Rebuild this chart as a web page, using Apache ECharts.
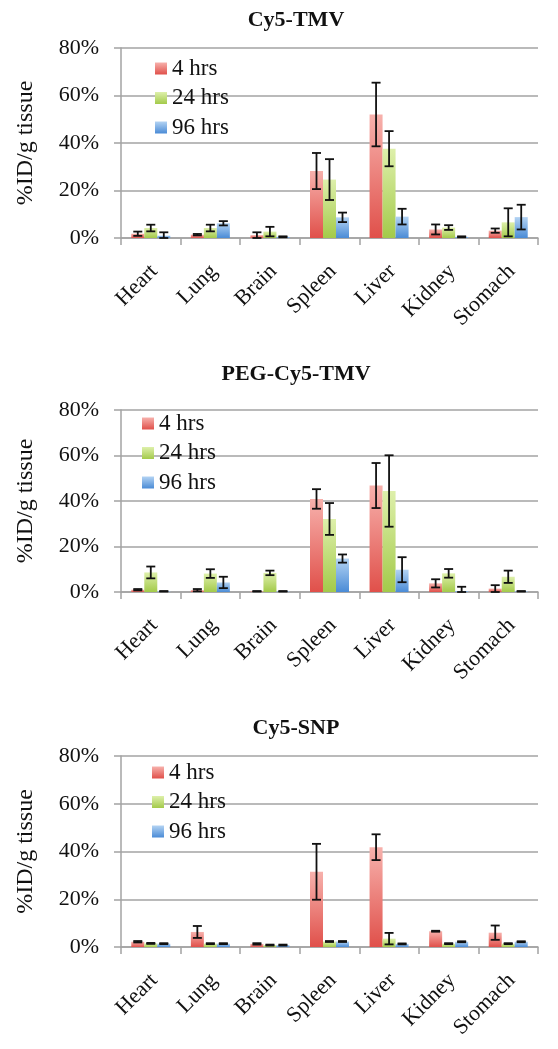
<!DOCTYPE html>
<html><head><meta charset="utf-8">
<script src="https://cdn.jsdelivr.net/npm/echarts@6/dist/echarts.min.js"></script>
<style>html,body{margin:0;padding:0;background:#fff}#c{width:558px;height:1049px}</style>
</head><body><div id="c"></div>
<script>
const categories = ['Heart','Lung','Brain','Spleen','Liver','Kidney','Stomach'];
const seriesNames = ['4 hrs','24 hrs','96 hrs'];
const panelTitles = ['Cy5-TMV','PEG-Cy5-TMV','Cy5-SNP'];
const yTicks = [0, 20, 40, 60, 80];

// Panel 1: Cy5-TMV (%ID/g)
const tmv4     = [1.8, 1.4, 1.2, 28.2, 52.0, 3.6, 3.1];
const tmv4Err  = [0.9, 0.3, 1.2, 7.6, 13.4, 2.1, 0.9];
const tmv24    = [4.2, 4.2, 2.7, 24.6, 37.6, 4.4, 6.6];
const tmv24Err = [1.4, 1.4, 2.0, 8.6, 7.4, 1.0, 5.9];
const tmv96    = [1.0, 6.2, 0.5, 8.7, 9.0, 0.5, 8.8];
const tmv96Err = [1.4, 0.9, 0.2, 2.0, 3.3, 0.2, 5.2];

// Panel 2: PEG-Cy5-TMV
const peg4     = [1.0, 0.8, 0.3, 40.9, 46.8, 3.8, 1.5];
const peg4Err  = [0.3, 0.5, 0.1, 4.3, 9.9, 1.8, 1.5];
const peg24    = [8.6, 8.1, 8.4, 32.1, 44.4, 8.2, 6.7];
const peg24Err = [2.6, 1.9, 1.0, 7.0, 15.7, 1.9, 2.7];
const peg96    = [0.3, 4.2, 0.3, 14.7, 9.8, 0.4, 0.3];
const peg96Err = [0.1, 2.5, 0.1, 1.8, 5.5, 1.9, 0.1];

// Panel 3: Cy5-SNP
const snp4     = [2.2, 6.3, 1.3, 31.5, 41.8, 6.6, 6.0];
const snp4Err  = [0.3, 2.5, 0.3, 11.7, 5.4, 0.2, 3.0];
const snp24    = [1.5, 1.4, 0.8, 2.3, 3.5, 1.4, 1.4];
const snp24Err = [0.2, 0.2, 0.2, 0.2, 2.4, 0.2, 0.2];
const snp96    = [1.4, 1.4, 0.8, 2.3, 1.3, 2.2, 2.2];
const snp96Err = [0.2, 0.2, 0.2, 0.2, 0.2, 0.2, 0.2];

const panels = [
  {vals:[tmv4, tmv24, tmv96], errs:[tmv4Err, tmv24Err, tmv96Err]},
  {vals:[peg4, peg24, peg96], errs:[peg4Err, peg24Err, peg96Err]},
  {vals:[snp4, snp24, snp96], errs:[snp4Err, snp24Err, snp96Err]}
];

const FONT = "'Liberation Serif', serif";
const BAR_W = 13;
const G = echarts.graphic.LinearGradient;
const colors = [
  new G(0,0,0,1,[{offset:0,color:'#f7b1ac'},{offset:1,color:'#e0504a'}]),
  new G(0,0,0,1,[{offset:0,color:'#def0ab'},{offset:1,color:'#a3ca4a'}]),
  new G(0,0,0,1,[{offset:0,color:'#b3d3f3'},{offset:1,color:'#4a8bd6'}])
];

const gridPos = [
  {top:48, height:190},
  {top:410, height:182},
  {top:756, height:191}
];
const titleTops = [9, 363, 717];
const legendPos = [{left:155, top:57}, {left:142, top:412}, {left:152, top:761}];

const grid = [], xAxis = [], yAxis = [], series = [], title = [], legend = [];
const gray = '#a3a3a3';

panels.forEach((p, gi) => {
  grid.push({left:121, right:20, top:gridPos[gi].top, height:gridPos[gi].height});
  title.push({text:panelTitles[gi], left:296, top:titleTops[gi], textAlign:'center', padding:0,
    textStyle:{fontFamily:FONT, fontWeight:'bold', fontSize:22, color:'#111'}});
  legend.push({data:seriesNames, orient:'vertical', left:legendPos[gi].left, top:legendPos[gi].top,
    padding:0, itemWidth:12, itemHeight:12, itemGap:6.5, icon:'rect', selectedMode:false,
    textStyle:{fontFamily:FONT, fontSize:23, color:'#111', lineHeight:22}});
  xAxis.push({type:'category', gridIndex:gi, data:categories,
    axisLine:{lineStyle:{color:gray, width:1.5}},
    axisTick:{show:true, length:7, lineStyle:{color:gray, width:1.5}},
    axisLabel:{rotate:45, interval:0, fontFamily:FONT, fontSize:22, color:'#111', margin:18,
      verticalAlign:'top', padding:[0,6,0,0]}});
  yAxis.push({type:'value', gridIndex:gi, min:yTicks[0], max:yTicks[yTicks.length-1], interval:yTicks[1]-yTicks[0],
    name:'%ID/g tissue', nameLocation:'middle', nameGap:83,
    nameTextStyle:{fontFamily:FONT, fontSize:24, color:'#111'},
    axisLine:{show:true, lineStyle:{color:gray, width:1.5}},
    axisTick:{show:true, length:7, lineStyle:{color:gray, width:1.5}},
    splitLine:{lineStyle:{color:gray, width:1.5}},
    axisLabel:{formatter:'{value}%', fontFamily:FONT, fontSize:22, color:'#111', margin:22}});
  p.vals.forEach((v, k) => {
    series.push({type:'bar', name:seriesNames[k], xAxisIndex:gi, yAxisIndex:gi, data:v,
      barWidth:BAR_W, barGap:'0%', itemStyle:{color:colors[k]}, animation:false});
  });
  p.vals.forEach((v, k) => {
    const e = p.errs[k];
    series.push({type:'custom', xAxisIndex:gi, yAxisIndex:gi, z:10, silent:true, animation:false,
      data: v.map((val, i) => [i, Math.max(0, val - e[i]), val + e[i]]),
      encode:{x:0, y:[1,2]},
      renderItem:(params, api) => {
        const hi = api.coord([api.value(0), api.value(2)]);
        const lo = api.coord([api.value(0), api.value(1)]);
        const x = hi[0] + (k - 1) * BAR_W;
        const cap = 4.5;
        const st = {stroke:'#111', lineWidth:1.8};
        return {type:'group', children:[
          {type:'line', shape:{x1:x, y1:hi[1], x2:x, y2:lo[1]}, style:st},
          {type:'line', shape:{x1:x-cap, y1:hi[1], x2:x+cap, y2:hi[1]}, style:st},
          {type:'line', shape:{x1:x-cap, y1:lo[1], x2:x+cap, y2:lo[1]}, style:st}
        ]};
      }});
  });
});

const chart = echarts.init(document.getElementById('c'), null, {renderer:'canvas'});
chart.setOption({backgroundColor:'#fff', animation:false, title, legend, grid, xAxis, yAxis, series});
</script></body></html>
